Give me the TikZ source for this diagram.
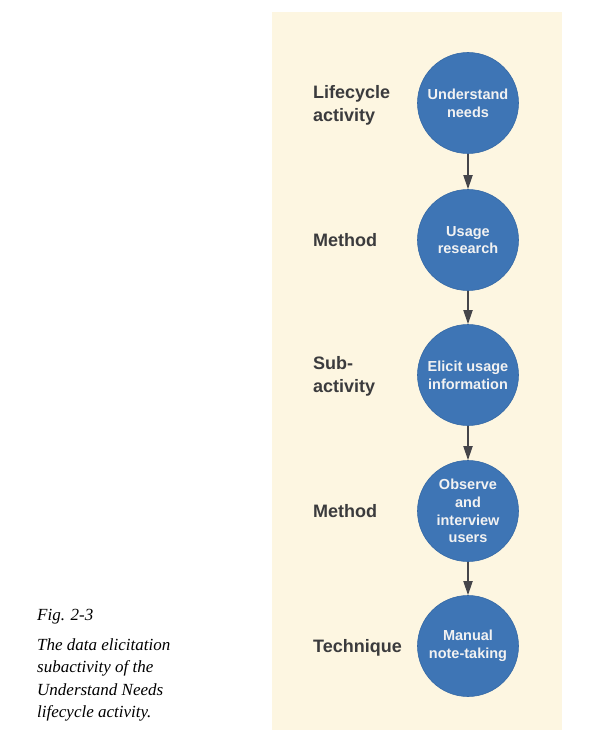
\documentclass[tikz,border=0pt]{standalone}
\usepackage{fontspec}
\setmainfont{Liberation Serif}
\setsansfont{Liberation Sans}
\usetikzlibrary{arrows.meta}

\definecolor{panelbg}{HTML}{FDF6E1}
\definecolor{stepblue}{HTML}{3E75B5}
\definecolor{stepedge}{HTML}{3569A6}
\definecolor{labelgray}{HTML}{3B3B3D}
\definecolor{arrowgray}{HTML}{45454A}

\begin{document}
\begin{tikzpicture}[
  x=1pt, y=-1pt,
  >={Triangle[length=14pt, width=9pt]},
  stage/.style={circle, draw=stepedge, line width=0.6pt, fill=stepblue,
                minimum size=101pt, inner sep=0pt, align=center,
                text=white!95!black, font=\sffamily\bfseries\fontsize{14.5}{17.7}\selectfont},
  kind/.style={anchor=west, align=left, inner sep=0pt, text=labelgray,
               font=\sffamily\bfseries\fontsize{18}{22.7}\selectfont},
  flow/.style={->, line width=1.8pt, draw=arrowgray},
]
\useasboundingbox (0,0) rectangle (613,730);
\fill[panelbg] (272,12) rectangle (562,730);

% stages of the breakdown
\node[stage] (needs)   at (468,103) {Understand\\needs};
\node[stage] (usage)   at (468,240) {Usage\\research};
\node[stage] (elicit)  at (468,375) {Elicit usage\\information};
\node[stage] (observe) at (468,511) {Observe\\and\\interview\\users};
\node[stage] (notes)   at (468,646) {Manual\\note-taking};

% level names
\node[kind] (lvlact)  at (313,105) {Lifecycle\\activity};
\node[kind] (lvlmeth) at (313,240) {Method};
\node[kind] (lvlsub)  at (313,376) {Sub-\\activity};
\node[kind] (lvlobs)  at (313,511) {Method};
\node[kind] (lvltech) at (313,648) {Technique};

\draw[flow] (needs) -- (usage);
\draw[flow] (usage) -- (elicit);
\draw[flow] (elicit) -- (observe);
\draw[flow] (observe) -- (notes);

% caption
\node[anchor=north west, align=left, inner sep=0pt,
      font=\itshape\fontsize{17}{22.5}\selectfont] (figcap) at (37,609)
  {Fig. 2-3\\[7.5pt]The data elicitation\\subactivity of the\\Understand Needs\\lifecycle activity.};
\end{tikzpicture}
\end{document}
